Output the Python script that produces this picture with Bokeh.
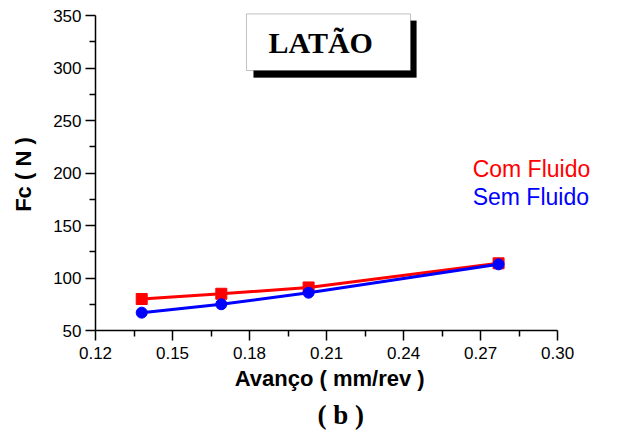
from bokeh.plotting import figure
from bokeh.models import Range1d, FixedTicker, PrintfTickFormatter, Label, BoxAnnotation, Title
from bokeh.embed import file_html
from bokeh.resources import INLINE

avanco = [0.138, 0.169, 0.203, 0.277]
com_fluido = [80, 85, 91, 114]
sem_fluido = [67, 75, 86, 113]
x_ticks = [0.12, 0.15, 0.18, 0.21, 0.24, 0.27, 0.30]
y_ticks = [50, 100, 150, 200, 250, 300, 350]

NB = "\u00a0"

p = figure(width=625, height=437, output_backend="svg", toolbar_location=None,
           x_range=Range1d(0.12, 0.3167), y_range=Range1d(50, 352.86),
           min_border_left=95, min_border_right=25, min_border_top=12, min_border_bottom=107)
p.outline_line_color = None
p.xgrid.visible = False
p.ygrid.visible = False
p.background_fill_color = "white"
p.border_fill_color = "white"

p.line(avanco, com_fluido, line_color="#ff0000", line_width=3)
p.scatter(avanco, com_fluido, marker="square", size=11, fill_color="#ff0000", line_color="#ff0000")
p.line(avanco, sem_fluido, line_color="#0000ff", line_width=3)
p.scatter(avanco, sem_fluido, marker="circle", size=11, fill_color="#0000ff", line_color="#0000ff")

for ax in (p.xaxis[0], p.yaxis[0]):
    ax.axis_line_width = 1.5
    ax.major_tick_line_width = 1.5
    ax.minor_tick_line_width = 1.5
    ax.major_tick_out = 10
    ax.major_tick_in = 0
    ax.minor_tick_out = 6
    ax.minor_tick_in = 0
    ax.major_label_text_font = "Liberation Sans"
    ax.major_label_text_font_size = "17px"
    ax.major_label_text_color = "black"
    ax.axis_label_text_font = "Liberation Sans"
    ax.axis_label_text_font_style = "bold"
    ax.axis_label_text_font_size = "22px"
    ax.axis_label_text_color = "black"

p.xaxis.bounds = (0.12, 0.30)
p.yaxis.bounds = (50, 350)
p.xaxis.ticker = FixedTicker(ticks=x_ticks, minor_ticks=[0.135, 0.165, 0.195, 0.225, 0.255, 0.285])
p.xaxis.formatter = PrintfTickFormatter(format="%.2f")
p.yaxis.ticker = FixedTicker(ticks=y_ticks, minor_ticks=[75, 125, 175, 225, 275, 325])
p.xaxis.axis_label = "Avanço ( mm/rev )" + NB * 6
p.yaxis.axis_label = "Fc  ( N )"
p.xaxis.major_label_standoff = 6
p.yaxis.major_label_standoff = 4
p.xaxis.axis_label_standoff = 4
p.yaxis.axis_label_standoff = 14

# title box with shadow
p.add_layout(BoxAnnotation(left=0.1816, right=0.2450, top=345.0, bottom=291.0,
                           fill_color="black", fill_alpha=1.0, line_color="black"))
p.add_layout(BoxAnnotation(left=0.1788, right=0.2427, top=351.5, bottom=297.6,
                           fill_color="white", fill_alpha=1.0, line_color="#333333", line_width=1))
p.add_layout(Label(x=0.2077, y=324.5, text="LATÃO", text_font="Liberation Serif",
                   text_font_style="bold", text_font_size="30px", text_align="center",
                   text_baseline="middle", text_color="black"))

p.add_layout(Label(x=0.2669, y=204, text="Com Fluido", text_font="Liberation Sans",
                   text_font_size="23px", text_baseline="middle", text_color="#ff0000"))
p.add_layout(Label(x=0.2669, y=177, text="Sem Fluido", text_font="Liberation Sans",
                   text_font_size="23px", text_baseline="middle", text_color="#0000ff"))

p.add_layout(Title(text="( b )", text_font="Liberation Serif", text_font_style="bold",
                   text_font_size="27px", align="left", text_color="black",
                   standoff=9, offset=222), "below")

open("out.html", "w").write(file_html(p, INLINE))
